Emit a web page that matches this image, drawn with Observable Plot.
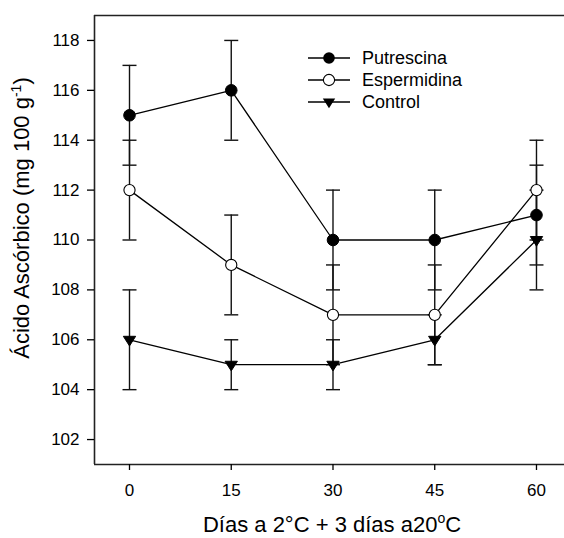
<!DOCTYPE html>
<html>
<head>
<meta charset="utf-8">
<script src="https://cdn.jsdelivr.net/npm/d3@7"></script>
<script src="https://cdn.jsdelivr.net/npm/@observablehq/plot@0.6"></script>
<style>
  html, body { margin: 0; padding: 0; background: #fff; overflow: hidden; }
  #chart svg { display: block; }
</style>
</head>
<body>
<div id="chart"></div>
<script>
// ---- data ----
const days = [0, 15, 30, 45, 60];
const seriesNames = ["Putrescina", "Espermidina", "Control"];
const putrescina = [115, 116, 110, 110, 111];
const putrescinaErr = [2, 2, 2, 2, 2];
const espermidina = [112, 109, 107, 107, 112];
const espermidinaErr = [2, 2, 2, 2, 2];
const control = [106, 105, 105, 106, 110];
const controlErr = [2, 1, 1, 1, 2];
const yTicks = [102, 104, 106, 108, 110, 112, 114, 116, 118];
const xTicks = [0, 15, 30, 45, 60];
const xDomain = [-5.16, 64.13];
const yDomain = [101, 119];

const values = [putrescina, espermidina, control];
const errs = [putrescinaErr, espermidinaErr, controlErr];
const rows = [];
seriesNames.forEach((s, i) => days.forEach((d, j) => rows.push({
  series: s, day: d, value: values[i][j], lo: values[i][j] - errs[i][j], hi: values[i][j] + errs[i][j]
})));
const bySeries = s => rows.filter(r => r.series === s);

// custom symbols
const triangleDown = {
  draw(ctx, size) {
    const r = Math.sqrt(size / Math.PI);
    ctx.moveTo(-r * 1.1, -r * 0.62);
    ctx.lineTo(r * 1.1, -r * 0.62);
    ctx.lineTo(0, r * 1.1);
    ctx.closePath();
  }
};
const capSymbol = {
  draw(ctx, size) {
    const r = Math.sqrt(size / Math.PI);
    ctx.moveTo(-r, 0);
    ctx.lineTo(r, 0);
  }
};

const font = "'Liberation Sans', Arial, Helvetica, sans-serif";
const W = 564, H = 538;

const plot = Plot.plot({
  width: W,
  height: H,
  marginLeft: 94,
  marginRight: 0,
  marginTop: 15,
  marginBottom: 74,
  style: { fontFamily: font, fontSize: "17px", color: "#000", background: "#fff" },
  x: { domain: xDomain },
  y: { domain: yDomain },
  marks: [
    Plot.ruleY([yDomain[1]], { stroke: "#222", strokeWidth: 1.6 }),
    Plot.ruleY([yDomain[0]], { stroke: "#222", strokeWidth: 1.6 }),
    Plot.ruleX([xDomain[0]], { stroke: "#222", strokeWidth: 1.6 }),
    Plot.axisY({ ticks: yTicks, tickSize: 7, tickPadding: 8, label: null, fontSize: 17, strokeWidth: 1.3 }),
    Plot.axisX({ ticks: xTicks, tickSize: 6, tickPadding: 13, label: null, fontSize: 17, strokeWidth: 1.3 }),
    // error bars
    Plot.ruleX(rows, { x: "day", y1: "lo", y2: "hi", stroke: "#111", strokeWidth: 1.4 }),
    Plot.dot(rows, { x: "day", y: "lo", symbol: capSymbol, r: 7, fill: "none", stroke: "#111", strokeWidth: 1.4 }),
    Plot.dot(rows, { x: "day", y: "hi", symbol: capSymbol, r: 7, fill: "none", stroke: "#111", strokeWidth: 1.4 }),
    // lines
    ...seriesNames.map(s => Plot.line(bySeries(s), { x: "day", y: "value", stroke: "#000", strokeWidth: 1.3 })),
    // markers
    Plot.dot(bySeries("Putrescina"), { x: "day", y: "value", r: 5.8, fill: "#000", stroke: "#000", strokeWidth: 1 }),
    Plot.dot(bySeries("Espermidina"), { x: "day", y: "value", r: 5.6, fill: "#fff", stroke: "#000", strokeWidth: 1.1 }),
    Plot.dot(bySeries("Control"), { x: "day", y: "value", r: 5.6, symbol: triangleDown, fill: "#000", stroke: "#000", strokeWidth: 1 })
  ]
});
document.getElementById("chart").appendChild(plot);

// axis titles and legend
const svg = d3.select(plot);
const ty = svg.append("text")
  .attr("transform", "translate(29,218) rotate(-90)")
  .attr("text-anchor", "middle")
  .attr("font-family", font).attr("font-size", 22).attr("fill", "#000");
ty.append("tspan").text("Ácido Ascórbico (mg 100 g");
ty.append("tspan").attr("font-size", 14).attr("dy", -8).text("-1");
ty.append("tspan").attr("dy", 8).text(")");

const tx = svg.append("text")
  .attr("x", 332).attr("y", 532)
  .attr("text-anchor", "middle")
  .attr("font-family", font).attr("font-size", 22).attr("fill", "#000");
tx.append("tspan").text("Días a 2°C + 3 días a20");
tx.append("tspan").attr("font-size", 14).attr("dy", -9).text("o");
tx.append("tspan").attr("dy", 9).text("C");

const legend = svg.append("g");
const legendY = [58, 80, 102];
seriesNames.forEach((s, i) => {
  const g = legend.append("g").attr("transform", `translate(0,${legendY[i]})`);
  g.append("line").attr("x1", 308).attr("x2", 350).attr("y1", 0).attr("y2", 0)
    .attr("stroke", "#000").attr("stroke-width", 1.3);
  if (i === 0) g.append("circle").attr("cx", 329).attr("cy", 0).attr("r", 5.8).attr("fill", "#000");
  if (i === 1) g.append("circle").attr("cx", 329).attr("cy", 0).attr("r", 5.6).attr("fill", "#fff").attr("stroke", "#000").attr("stroke-width", 1.1);
  if (i === 2) g.append("path").attr("transform", "translate(329,0)").attr("d", "M-6.2,-3.5L6.2,-3.5L0,6.2Z").attr("fill", "#000");
  g.append("text").attr("x", 362).attr("y", 0).attr("dy", "0.35em")
    .attr("text-anchor", "start")
    .attr("font-family", font).attr("font-size", 18).attr("fill", "#000").text(s);
});
</script>
</body>
</html>
